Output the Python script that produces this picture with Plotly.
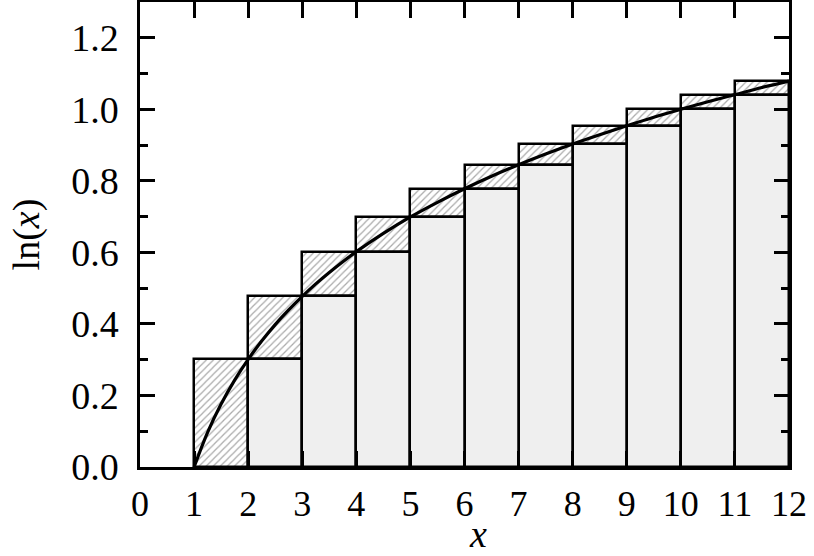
import plotly.graph_objects as go

# integer positions and log10 values
n_left = [1, 2, 3, 4, 5, 6, 7, 8, 9, 10, 11]
low_vals = [0.000, 0.301, 0.477, 0.602, 0.699, 0.778, 0.845, 0.903, 0.954, 1.000, 1.041]
high_vals = [0.301, 0.477, 0.602, 0.699, 0.778, 0.845, 0.903, 0.954, 1.000, 1.041, 1.079]

curve_x = [1.0, 1.25, 1.5, 1.75, 2.0, 2.25, 2.5, 2.75, 3.0, 3.25, 3.5, 3.75, 4.0,
           4.5, 5.0, 5.5, 6.0, 6.5, 7.0, 7.5, 8.0, 8.5, 9.0, 9.5, 10.0, 10.5,
           11.0, 11.5, 12.0]
curve_y = [0.000, 0.097, 0.176, 0.243, 0.301, 0.352, 0.398, 0.439, 0.477, 0.512,
           0.544, 0.574, 0.602, 0.653, 0.699, 0.740, 0.778, 0.813, 0.845, 0.875,
           0.903, 0.929, 0.954, 0.978, 1.000, 1.021, 1.041, 1.061, 1.079]

x_ticks = list(range(0, 13))
y_ticks = [0.0, 0.2, 0.4, 0.6, 0.8, 1.0, 1.2]
y_ticklabels = ["0.0", "0.2", "0.4", "0.6", "0.8", "1.0", "1.2"]

centers = [n + 0.5 for n in n_left]
diffs = [h - l for h, l in zip(high_vals, low_vals)]

fig = go.Figure()
# hatched upper rectangles
fig.add_trace(go.Bar(
    x=centers, y=diffs, base=low_vals, width=1,
    marker=dict(color="white",
                line=dict(color="black", width=2.5),
                pattern=dict(shape="/", fgcolor="#555", bgcolor="white",
                             size=5, solidity=0.25)),
    showlegend=False, hoverinfo="skip"))
# light gray lower rectangles
fig.add_trace(go.Bar(
    x=centers[1:], y=low_vals[1:], width=1,
    marker=dict(color="#efefef", line=dict(color="black", width=2.5)),
    showlegend=False, hoverinfo="skip"))
# curve
fig.add_trace(go.Scatter(
    x=curve_x, y=curve_y, mode="lines", line=dict(color="black", width=3.2, shape="spline"),
    showlegend=False, hoverinfo="skip"))

fig.update_layout(
    width=814, height=556,
    margin=dict(l=140, r=25, t=2, b=89, autoexpand=False),
    paper_bgcolor="white", plot_bgcolor="white",
    barmode="overlay", bargap=0,
    font=dict(family="Liberation Serif", size=38, color="black"),
    xaxis=dict(range=[0, 12], tickvals=x_ticks, ticks="inside", ticklen=16,
               tickwidth=2.5, tickcolor="black", showline=True, linecolor="black",
               linewidth=2.5, mirror="ticks", showgrid=False, zeroline=False,
               tickfont=dict(size=36), ticklabelstandoff=3),
    yaxis=dict(range=[0, 1.3], tickvals=y_ticks, ticktext=y_ticklabels,
               ticks="inside", ticklen=15, tickwidth=2.5, tickcolor="black",
               showline=True, linecolor="black", linewidth=2.5, mirror="ticks",
               showgrid=False, zeroline=False, ticklabelstandoff=11,
               tickfont=dict(size=38),
               minor=dict(dtick=0.1, ticks="inside", ticklen=8, tickwidth=2.5,
                          tickcolor="black", showgrid=False),
               title=dict(text="ln(<i>x</i>)", standoff=20, font=dict(size=38))),
    annotations=[dict(text="<i>x</i>", xref="paper", yref="paper", x=0.521, y=-0.191,
                      xanchor="center", yanchor="bottom", showarrow=False,
                      font=dict(size=38), borderpad=0)],
)

fig.write_html("out.html", config={"displayModeBar": False},
               post_script="document.body.style.margin='0';")
